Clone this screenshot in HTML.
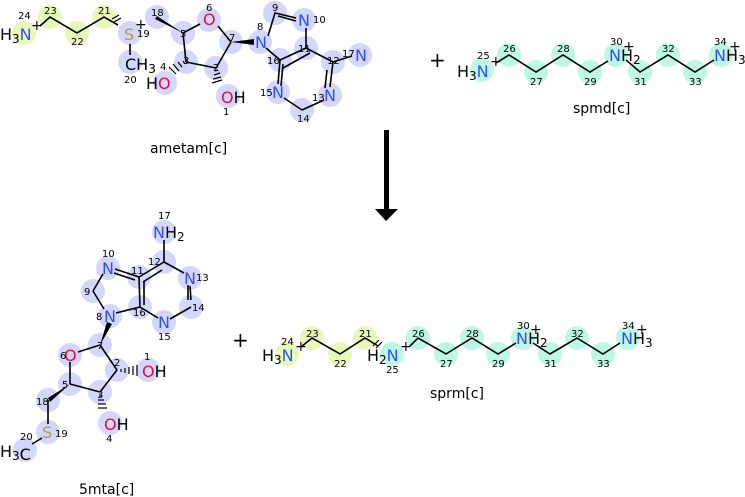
<!DOCTYPE html>
<html><head><meta charset="utf-8"><style>
html,body{margin:0;padding:0;background:#fff;}
svg{display:block;font-family:"DejaVu Sans","Liberation Sans",sans-serif;}
.n{font-size:10px;fill:#000;}
.a{font-size:16px;}
.N{fill:#3050f8;}.O{fill:#e0103a;}.S{fill:#b0a030;}
.b{stroke:#000;stroke-width:1.6;fill:none;}
.lab{font-size:14px;fill:#000;}
</style></head><body>
<svg width="745" height="497" viewBox="0 0 745 497">
<!-- highlight circles -->
<g fill="#d4d6fb">
<circle cx="130" cy="33" r="12"/><circle cx="130" cy="62" r="12"/><circle cx="157" cy="17" r="12"/>
<circle cx="183" cy="33" r="12"/><circle cx="209" cy="20" r="12"/><circle cx="231" cy="42" r="12"/>
<circle cx="186" cy="62" r="12"/><circle cx="216" cy="68" r="12"/><circle cx="165" cy="83" r="12"/>
<circle cx="228" cy="96" r="12"/><circle cx="260" cy="42" r="12"/><circle cx="275" cy="13" r="12"/>
<circle cx="304" cy="20" r="12"/><circle cx="306" cy="48" r="12"/><circle cx="280" cy="60" r="12"/>
<circle cx="278" cy="92" r="12"/><circle cx="302" cy="110" r="12"/><circle cx="330" cy="95" r="12"/>
<circle cx="333" cy="62" r="12"/><circle cx="360" cy="55" r="12"/>
<circle cx="164" cy="232" r="12"/><circle cx="164" cy="262" r="12"/><circle cx="190" cy="278" r="12"/>
<circle cx="191" cy="307" r="12"/><circle cx="164" cy="322" r="12"/><circle cx="140" cy="307" r="12"/>
<circle cx="139" cy="277" r="12"/><circle cx="108" cy="268" r="12"/><circle cx="93" cy="291" r="12"/>
<circle cx="110" cy="316" r="12"/><circle cx="100" cy="345" r="12"/><circle cx="70" cy="355" r="12"/>
<circle cx="117" cy="370" r="12"/><circle cx="100" cy="392" r="12"/><circle cx="70" cy="384" r="12"/>
<circle cx="148" cy="370" r="12"/><circle cx="110" cy="423" r="12"/><circle cx="48" cy="400" r="12"/>
<circle cx="48" cy="432" r="12"/><circle cx="25" cy="450" r="12"/>
</g>
<g fill="#e6f9b8">
<circle cx="24" cy="33" r="12"/><circle cx="50" cy="17" r="12"/><circle cx="77" cy="33" r="12"/><circle cx="104" cy="17" r="12"/>
<circle cx="287" cy="354" r="12"/><circle cx="312" cy="338" r="12"/><circle cx="340" cy="354" r="12"/><circle cx="365" cy="338" r="12"/>
</g>
<g fill="#bdf8e6">
<circle cx="482" cy="70" r="12"/><circle cx="509" cy="55" r="12"/><circle cx="536" cy="72" r="12"/><circle cx="563" cy="55" r="12"/><circle cx="590" cy="72" r="12"/><circle cx="616" cy="55" r="12"/><circle cx="640" cy="72" r="12"/><circle cx="668" cy="55" r="12"/><circle cx="695" cy="72" r="12"/><circle cx="721" cy="55" r="12"/>
<circle cx="392" cy="354" r="12"/><circle cx="418" cy="338" r="12"/><circle cx="446" cy="354" r="12"/><circle cx="472" cy="338" r="12"/><circle cx="498" cy="354" r="12"/><circle cx="523" cy="338" r="12"/><circle cx="550" cy="354" r="12"/><circle cx="577" cy="338" r="12"/><circle cx="603" cy="354" r="12"/><circle cx="628" cy="338" r="12"/>
</g>
<!-- ametam bonds -->
<g class="b">
<polyline points="40,26 50,17 77,33 104,17 118,25"/>
<line x1="130" y1="44" x2="130" y2="55"/>
<line x1="183" y1="33" x2="200" y2="24"/><line x1="218" y1="26" x2="231" y2="42"/>
<line x1="183" y1="33" x2="186" y2="62"/><line x1="186" y1="62" x2="216" y2="68"/><line x1="216" y1="68" x2="231" y2="42"/>
<polyline points="268,36 275,13 296,18"/><line x1="278" y1="16" x2="296" y2="21"/>
<line x1="266" y1="48" x2="280" y2="60"/><line x1="306" y1="28" x2="306" y2="48"/>
<line x1="306" y1="48" x2="280" y2="60"/><line x1="280" y1="60" x2="278" y2="84"/>
<line x1="284" y1="98" x2="302" y2="110"/><line x1="302" y1="110" x2="324" y2="100"/>
<line x1="330" y1="87" x2="333" y2="62"/><line x1="333" y1="62" x2="306" y2="48"/>
<line x1="333" y1="62" x2="352" y2="56"/>
<line x1="283" y1="64" x2="281" y2="86"/><line x1="327" y1="70" x2="325" y2="88"/>
<line x1="310" y1="53" x2="283" y2="68"/>
</g>
<polygon points="183,33 157,16 155,19" fill="#000"/>
<polygon points="231,42 254,39 254,45" fill="#000"/>
<g stroke="#000" stroke-width="1.2">
<line x1="185" y1="64" x2="183" y2="61"/><line x1="182" y1="67" x2="178" y2="62"/><line x1="179" y1="71" x2="173" y2="64"/><line x1="176" y1="74" x2="169" y2="67"/>
<line x1="215" y1="71" x2="218" y2="70"/><line x1="214" y1="75" x2="220" y2="73"/><line x1="213" y1="79" x2="221" y2="77"/><line x1="212" y1="83" x2="222" y2="80"/>
<line x1="112" y1="19" x2="119" y2="15"/><line x1="114" y1="22" x2="121" y2="18"/>
</g>
<!-- ametam atoms -->
<text x="0" y="40" class="a">H<tspan font-size="12" dy="3">3</tspan><tspan class="N" dy="-3">N</tspan></text><text x="31" y="30" font-size="14">+</text>
<text x="124" y="40" class="a S">S</text><text x="135" y="29" font-size="14">+</text>
<text x="125" y="70" class="a">CH<tspan font-size="12" dy="3">3</tspan></text>
<text x="203" y="25" class="a O">O</text>
<text x="146" y="89" class="a">H<tspan class="O">O</tspan></text>
<text x="221" y="103" class="a"><tspan class="O">O</tspan>H</text>
<text x="255" y="48" class="a N">N</text><text x="298" y="26" class="a N">N</text>
<text x="272" y="98" class="a N">N</text><text x="324" y="101" class="a N">N</text><text x="355" y="61" class="a N">N</text>
<g class="n">
<text x="18" y="19">24</text><text x="44" y="14">23</text><text x="71" y="45">22</text><text x="98" y="14">21</text>
<text x="137" y="37">19</text><text x="124" y="83">20</text><text x="151" y="16">18</text><text x="180" y="37">5</text>
<text x="206" y="11">6</text><text x="229" y="41">7</text><text x="160" y="70">4</text><text x="183" y="64">3</text>
<text x="213" y="71">2</text><text x="223" y="115">1</text><text x="257" y="30">8</text><text x="272" y="11">9</text>
<text x="313" y="23">10</text><text x="298" y="52">11</text><text x="267" y="64">16</text><text x="260" y="96">15</text>
<text x="297" y="122">14</text><text x="312" y="101">13</text><text x="327" y="64">12</text><text x="342" y="57">17</text>
</g>
<text x="150" y="153" class="lab">ametam[c]</text>
<text x="429" y="67" font-size="20">+</text>
<!-- spmd -->
<polyline class="b" points="496,63 509,55 536,72 563,55 590,72 608,61"/>
<polyline class="b" points="626,60 640,72 668,55 695,72 714,60"/>
<text x="457" y="77" class="a">H<tspan font-size="12" dy="3">3</tspan><tspan class="N" dy="-3">N</tspan></text><text x="490" y="66" font-size="14">+</text>
<text x="609" y="61" class="a"><tspan class="N">N</tspan>H<tspan font-size="12" dy="3">2</tspan></text><text x="623" y="51" font-size="14">+</text>
<text x="714" y="61" class="a"><tspan class="N">N</tspan>H<tspan font-size="12" dy="3">3</tspan></text><text x="729" y="51" font-size="14">+</text>
<g class="n">
<text x="477" y="59">25</text><text x="503" y="52">26</text><text x="530" y="85">27</text><text x="557" y="52">28</text>
<text x="584" y="85">29</text><text x="610" y="45">30</text><text x="634" y="85">31</text><text x="662" y="52">32</text>
<text x="689" y="85">33</text><text x="714" y="45">34</text>
</g>
<text x="573" y="113" class="lab">spmd[c]</text>
<!-- arrow -->
<rect x="384" y="130" width="5" height="80" fill="#000"/>
<polygon points="375,209 398,209 386,221" fill="#000"/>
<!-- 5mta -->
<g class="b">
<line x1="164" y1="240" x2="164" y2="262"/><line x1="164" y1="262" x2="184" y2="273"/>
<line x1="190" y1="286" x2="191" y2="300"/><line x1="191" y1="307" x2="170" y2="319"/>
<line x1="158" y1="318" x2="140" y2="307"/><line x1="140" y1="307" x2="139" y2="277"/><line x1="139" y1="277" x2="164" y2="262"/>
<line x1="143" y1="282" x2="162" y2="270"/><line x1="144" y1="305" x2="144" y2="281"/>
<line x1="115" y1="269" x2="139" y2="277"/><line x1="114" y1="273" x2="135" y2="280"/>
<line x1="103" y1="274" x2="93" y2="291"/><line x1="93" y1="291" x2="104" y2="309"/>
<line x1="116" y1="313" x2="140" y2="307"/><line x1="188" y1="285" x2="188" y2="300" />
<line x1="100" y1="345" x2="78" y2="352"/><line x1="70" y1="362" x2="70" y2="384"/>
<line x1="70" y1="384" x2="100" y2="392"/><line x1="100" y1="392" x2="117" y2="370"/><line x1="117" y1="370" x2="100" y2="345"/>
<line x1="48" y1="400" x2="48" y2="424"/><line x1="42" y1="438" x2="32" y2="444"/>
</g>
<polygon points="100,345 107,322 112,324" fill="#000"/>
<polygon points="70,384 48,398 50,402" fill="#000"/>
<g stroke="#000" stroke-width="1.2">
<line x1="121" y1="369" x2="121" y2="372"/><line x1="125" y1="368" x2="125" y2="373"/><line x1="129" y1="367" x2="129" y2="374"/><line x1="133" y1="366" x2="133" y2="375"/><line x1="137" y1="365" x2="137" y2="376"/>
<line x1="99" y1="396" x2="102" y2="396"/><line x1="98" y1="400" x2="104" y2="400"/><line x1="98" y1="404" x2="106" y2="404"/><line x1="98" y1="408" x2="107" y2="408"/>
</g>
<text x="153" y="238" class="a"><tspan class="N">N</tspan>H<tspan font-size="12" dy="3">2</tspan></text>
<text x="184" y="284" class="a N">N</text><text x="158" y="328" class="a N">N</text>
<text x="102" y="274" class="a N">N</text><text x="104" y="322" class="a N">N</text>
<text x="64" y="361" class="a O">O</text>
<text x="142" y="377" class="a"><tspan class="O">O</tspan>H</text>
<text x="104" y="430" class="a"><tspan class="O">O</tspan>H</text>
<text x="42" y="438" class="a S">S</text>
<text x="0" y="457" class="a">H<tspan font-size="12" dy="3">3</tspan>C</text>
<g class="n">
<text x="158" y="219">17</text><text x="148" y="265">12</text><text x="196" y="281">13</text><text x="192" y="311">14</text>
<text x="158" y="340">15</text><text x="133" y="316">16</text><text x="131" y="274">11</text><text x="102" y="257">10</text>
<text x="84" y="295">9</text><text x="96" y="320">8</text><text x="97" y="349">7</text><text x="60" y="359">6</text>
<text x="114" y="366">2</text><text x="144" y="360">1</text><text x="97" y="398">3</text><text x="62" y="388">5</text>
<text x="36" y="405">18</text><text x="55" y="437">19</text><text x="20" y="440">20</text><text x="106" y="442">4</text>
</g>
<text x="79" y="494" class="lab">5mta[c]</text>
<text x="232" y="347" font-size="20">+</text>
<!-- sprm -->
<polyline class="b" points="301,347 312,338 340,354 365,338 378,346"/>
<polyline class="b" points="410,346 418,338 446,354 472,338 498,354 516,343"/>
<polyline class="b" points="533,343 550,354 577,338 603,354 620,343"/>
<g stroke="#000" stroke-width="1.2"><line x1="373" y1="346" x2="379" y2="340"/><line x1="376" y1="348" x2="382" y2="342"/></g>
<text x="262" y="361" class="a">H<tspan font-size="12" dy="3">3</tspan><tspan class="N" dy="-3">N</tspan></text><text x="295" y="351" font-size="14">+</text>
<text x="367" y="361" class="a">H<tspan font-size="12" dy="3">2</tspan><tspan class="N" dy="-3">N</tspan></text><text x="400" y="351" font-size="14">+</text>
<text x="516" y="344" class="a"><tspan class="N">N</tspan>H<tspan font-size="12" dy="3">2</tspan></text><text x="530" y="334" font-size="14">+</text>
<text x="621" y="344" class="a"><tspan class="N">N</tspan>H<tspan font-size="12" dy="3">3</tspan></text><text x="636" y="334" font-size="14">+</text>
<g class="n">
<text x="281" y="345">24</text><text x="306" y="337">23</text><text x="334" y="367">22</text><text x="359" y="337">21</text>
<text x="386" y="373">25</text><text x="412" y="337">26</text><text x="440" y="367">27</text><text x="466" y="337">28</text>
<text x="492" y="367">29</text><text x="517" y="329">30</text><text x="544" y="367">31</text><text x="571" y="337">32</text>
<text x="597" y="367">33</text><text x="622" y="329">34</text>
</g>
<text x="430" y="398" class="lab">sprm[c]</text>
</svg>
</body></html>
